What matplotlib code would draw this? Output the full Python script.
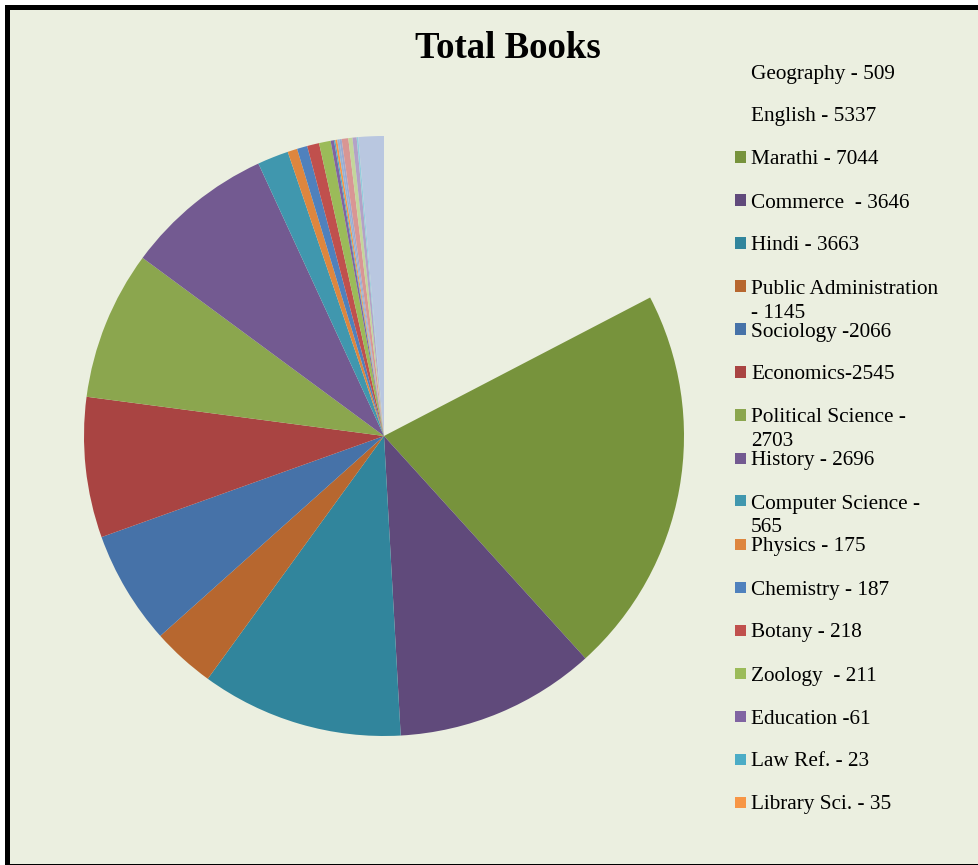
import matplotlib
matplotlib.use('Agg')
import matplotlib.pyplot as plt
from matplotlib.patches import Rectangle

# book counts per subject (last few slices are not named in the legend)
subjects = ['Geography', 'English', 'Marathi', 'Commerce', 'Hindi',
            'Public Administration', 'Sociology', 'Economics',
            'Political Science', 'History', 'Computer Science', 'Physics',
            'Chemistry', 'Botany', 'Zoology', 'Education', 'Law Ref.',
            'Library Sci.', 'Other 1', 'Other 2', 'Other 3', 'Other 4',
            'Other 5', 'Other 6', 'Other 7']
books = [509, 5337, 7044, 3646, 3663, 1145, 2066, 2545, 2703, 2696, 565,
         175, 187, 218, 211, 61, 23, 35, 40, 40, 120, 75, 75, 30, 460]
legend_labels = ['Geography - 509', 'English - 5337', 'Marathi - 7044',
                 'Commerce  - 3646', 'Hindi - 3663',
                 'Public Administration\n- 1145', 'Sociology -2066',
                 'Economics-2545', 'Political Science -\n2703',
                 'History - 2696', 'Computer Science -\n565',
                 'Physics - 175', 'Chemistry - 187', 'Botany - 218',
                 'Zoology  - 211', 'Education -61', 'Law Ref. - 23',
                 'Library Sci. - 35']
colors = ['none', 'none', '#77933C', '#604A7B', '#31859C', '#B7672F',
          '#4672A8', '#A94442', '#8BA64E', '#735A91', '#4097AE', '#DE863E',
          '#4F81BD', '#C0504D', '#9BBB59', '#8064A2', '#4BACC6', '#F79646',
          '#95B3D7', '#9DA9D0', '#D99694', '#C3D69B', '#B3A2C7', '#93CDDD',
          '#B9C7E0']

W, H = 979, 865
bg = '#EBEFE0'
font = 'Liberation Serif'

fig = plt.figure(figsize=(W / 100, H / 100), dpi=100, facecolor='white')

# chart frame: thick black border on left/top, light green fill
fig.patches.append(Rectangle((5 / W, 0), 1, 1 - 5 / H, transform=fig.transFigure,
                             facecolor='black', edgecolor='none', zorder=-2))
fig.patches.append(Rectangle((10 / W, 1 / H), 1, 1 - 11 / H, transform=fig.transFigure,
                             facecolor=bg, edgecolor='none', zorder=-1))

cx, cy, r = 384, 436, 300
ax = fig.add_axes([(cx - r) / W, (H - cy - r) / H, 2 * r / W, 2 * r / H])
ax.set_zorder(2)
ax.pie(books, colors=colors, startangle=90, counterclock=False, radius=1,
       wedgeprops=dict(linewidth=0))
ax.set_xlim(-1, 1)
ax.set_ylim(-1, 1)
ax.axis('off')

fig.text(508 / W, 1 - 48 / H, 'Total Books', ha='center', va='center',
         fontsize=26.5, fontweight='bold', family=font)

# legend drawn by hand to keep Excel-like spacing
row0, step = 71, 43
for i, lab in enumerate(legend_labels):
    y = row0 + i * step
    if colors[i] != 'none':
        fig.patches.append(Rectangle((735 / W, 1 - (y + 5.5) / H), 11 / W, 11 / H,
                                     transform=fig.transFigure,
                                     facecolor=colors[i], edgecolor='none'))
    for j, line in enumerate(lab.split('\n')):
        fig.text(751 / W, 1 - (y + 3 + j * 24) / H, line, ha='left', va='center',
                 fontsize=15.3, family=font, color='black')

fig.savefig('out.png', dpi=100, facecolor=fig.get_facecolor())
